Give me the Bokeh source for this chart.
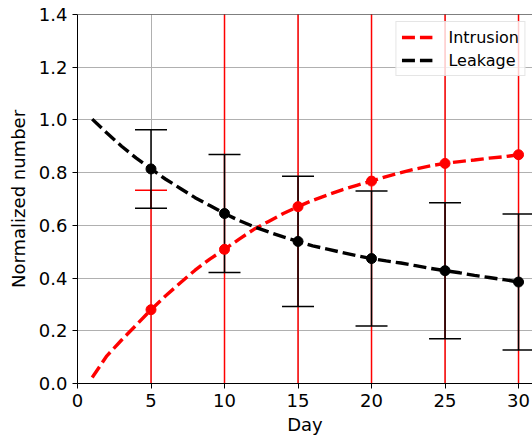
from bokeh.plotting import figure
from bokeh.models import Range1d, FixedTicker, Span
from bokeh.embed import file_html
from bokeh.resources import INLINE

days = list(range(1, 31))
intrusion = [0.023, 0.105, 0.165, 0.222, 0.28, 0.333, 0.382, 0.43, 0.472, 0.509,
             0.548, 0.585, 0.615, 0.645, 0.671, 0.695, 0.715, 0.735, 0.752, 0.768,
             0.785, 0.80, 0.814, 0.826, 0.835, 0.842, 0.848, 0.855, 0.86, 0.868]
leakage = [1.003, 0.95, 0.9, 0.855, 0.814, 0.775, 0.74, 0.705, 0.675, 0.645,
           0.618, 0.595, 0.575, 0.556, 0.539, 0.522, 0.51, 0.497, 0.485, 0.474,
           0.465, 0.457, 0.447, 0.437, 0.428, 0.42, 0.41, 0.402, 0.394, 0.385]

err_days = [5, 10, 15, 20, 25, 30]
intrusion_pts = [0.28, 0.509, 0.671, 0.768, 0.835, 0.868]
intrusion_err = [0.453, 0.95, 1.0, 1.05, 1.1, 1.15]
leakage_pts = [0.814, 0.645, 0.539, 0.474, 0.428, 0.385]
leakage_err = [0.149, 0.224, 0.247, 0.256, 0.258, 0.258]

x_ticks = [0, 5, 10, 15, 20, 25, 30]
y_ticks = [0.0, 0.2, 0.4, 0.6, 0.8, 1.0, 1.2, 1.4]
y_tick_labels = ["0.0", "0.2", "0.4", "0.6", "0.8", "1.0", "1.2", "1.4"]

FONT = "DejaVu Sans"
CAP_HALF = 1.088  # cap half-width in days (~32 px)

p = figure(width=532, height=438, output_backend="svg", toolbar_location=None,
           x_range=Range1d(0, 30.95), y_range=Range1d(0, 1.4),
           min_border_left=77, min_border_right=0, min_border_top=14,
           min_border_bottom=55)
p.outline_line_color = None
p.background_fill_color = "white"

# grid
p.xgrid.ticker = FixedTicker(ticks=x_ticks)
p.ygrid.ticker = FixedTicker(ticks=y_ticks)
for g in (p.xgrid, p.ygrid):
    g.grid_line_color = "#b0b0b0"
    g.grid_line_width = 1

# axes
p.xaxis.ticker = FixedTicker(ticks=x_ticks)
p.yaxis.ticker = FixedTicker(ticks=y_ticks)
p.yaxis.major_label_overrides = {t: l for t, l in zip(y_ticks, y_tick_labels)}
p.xaxis.axis_label = "Day"
p.yaxis.axis_label = "Normalized number"
for ax in (p.xaxis, p.yaxis):
    ax.axis_line_color = "black"
    ax.axis_line_width = 1
    ax.major_tick_line_color = "black"
    ax.major_tick_out = 5
    ax.major_tick_in = 0
    ax.minor_tick_line_color = None
    ax.major_label_text_font = FONT
    ax.major_label_text_font_size = "18px"
    ax.major_label_text_color = "black"
    ax.major_label_standoff = 5
    ax.axis_label_text_font = FONT
    ax.axis_label_text_font_size = "18px"
    ax.axis_label_text_font_style = "normal"
    ax.axis_label_text_color = "black"
p.xaxis.axis_label_standoff = 4
p.yaxis.axis_label_standoff = 7

# top spine
p.add_layout(Span(location=1.4, dimension="width", line_color="black", line_width=1))

# red error bars (Intrusion)
i_lo = [v - e for v, e in zip(intrusion_pts, intrusion_err)]
i_hi = [v + e for v, e in zip(intrusion_pts, intrusion_err)]
p.segment(x0=err_days, y0=i_lo, x1=err_days, y1=i_hi, line_color="red", line_width=1.5)
for yy in (i_lo, i_hi):
    p.segment(x0=[d - CAP_HALF for d in err_days], y0=yy,
              x1=[d + CAP_HALF for d in err_days], y1=yy,
              line_color="red", line_width=1.5)

# black error bars (Leakage)
l_lo = [v - e for v, e in zip(leakage_pts, leakage_err)]
l_hi = [v + e for v, e in zip(leakage_pts, leakage_err)]
p.segment(x0=err_days, y0=l_lo, x1=err_days, y1=l_hi, line_color="black", line_width=1.5)
for yy in (l_lo, l_hi):
    p.segment(x0=[d - CAP_HALF for d in err_days], y0=yy,
              x1=[d + CAP_HALF for d in err_days], y1=yy,
              line_color="black", line_width=1.5)

# dashed lines
p.line(days, intrusion, line_color="red", line_width=3.4, line_dash="13 5",
       legend_label="Intrusion")
p.line(days, leakage, line_color="black", line_width=3.4, line_dash="13 5",
       legend_label="Leakage")

# markers
p.scatter(err_days, intrusion_pts, size=10, color="red")
p.scatter(err_days, leakage_pts, size=10, color="black")

lg = p.legend[0]
lg.location = "top_right"
lg.margin = 7
lg.padding = 5
lg.spacing = 3
lg.label_height = 20
lg.glyph_height = 20
lg.glyph_width = 31
lg.label_standoff = 16
lg.label_text_font = FONT
lg.label_text_font_size = "16px"
lg.label_text_color = "black"
lg.border_line_color = "#cccccc"
lg.border_line_width = 1
lg.background_fill_alpha = 0.8

open("out.html", "w").write(file_html(p, INLINE))
